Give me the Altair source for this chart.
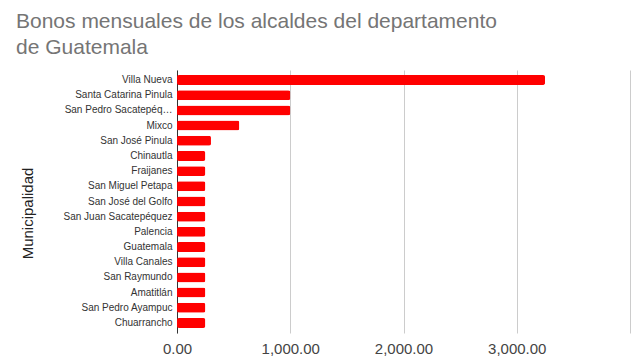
import altair as alt
import pandas as pd

municipios = [
    "Villa Nueva", "Santa Catarina Pinula", "San Pedro Sacatepéquez", "Mixco",
    "San José Pinula", "Chinautla", "Fraijanes", "San Miguel Petapa",
    "San José del Golfo", "San Juan Sacatepéquez", "Palencia", "Guatemala",
    "Villa Canales", "San Raymundo", "Amatitlán", "San Pedro Ayampuc", "Chuarrancho",
]
bonos = [3250, 1000, 1000, 550, 300, 250, 250, 250, 250, 250, 250, 250, 250, 250, 250, 250, 250]
x_ticks = [0, 1000, 2000, 3000, 4000]

df = pd.DataFrame({"Municipalidad": municipios, "Bono": bonos})

FONT = "Liberation Sans"

chart = alt.Chart(df).mark_bar(color="#ff0000", cornerRadius=2).encode(
    y=alt.Y(
        "Municipalidad:N",
        sort=None,
        scale=alt.Scale(paddingInner=0.342, paddingOuter=0.33),
        axis=alt.Axis(
            title="Municipalidad",
            titleFont=FONT, titleFontSize=15, titleFontWeight="normal", titleColor="#222222",
            titleAngle=270, titleX=-150, titleY=143, titleAlign="center", titleBaseline="middle",
            labelFont=FONT, labelFontSize=10, labelColor="#333333", labelPadding=5,
            labelExpr="length(datum.label) > 21 ? slice(datum.label, 0, 19) + '…' : datum.label",
            labelLimit=200,
            ticks=False, domainColor="#333333", domainWidth=1, grid=False,
        ),
    ),
    x=alt.X(
        "Bono:Q",
        scale=alt.Scale(domain=[0, 4000], nice=False),
        axis=alt.Axis(
            title=None, values=x_ticks, format=",.2f",
            labelFont=FONT, labelFontSize=15, labelColor="#444444", labelPadding=8,
            labelFlush=False, labelAlign="center", labelBound=False, labelOverlap=False,
            labelExpr="datum.value == 4000 ? '' : datum.label",
            ticks=False, domain=False, grid=True, gridColor="#cccccc", gridWidth=1,
        ),
    ),
).properties(
    width=453,
    height=263,
    autosize=alt.AutoSizeParams(type="none"),
    padding={"left": 169, "top": 62, "right": 2, "bottom": 23},
    title=alt.TitleParams(
        text=["Bonos mensuales de los alcaldes del departamento", "de Guatemala"],
        anchor="start", frame="group", dx=-161, offset=12,
        font=FONT, fontSize=21, fontWeight="normal", color="#757575", lineHeight=26,
    ),
).configure_view(stroke=None)

chart.save("out.html", embed_options={"renderer": "svg", "actions": False})
